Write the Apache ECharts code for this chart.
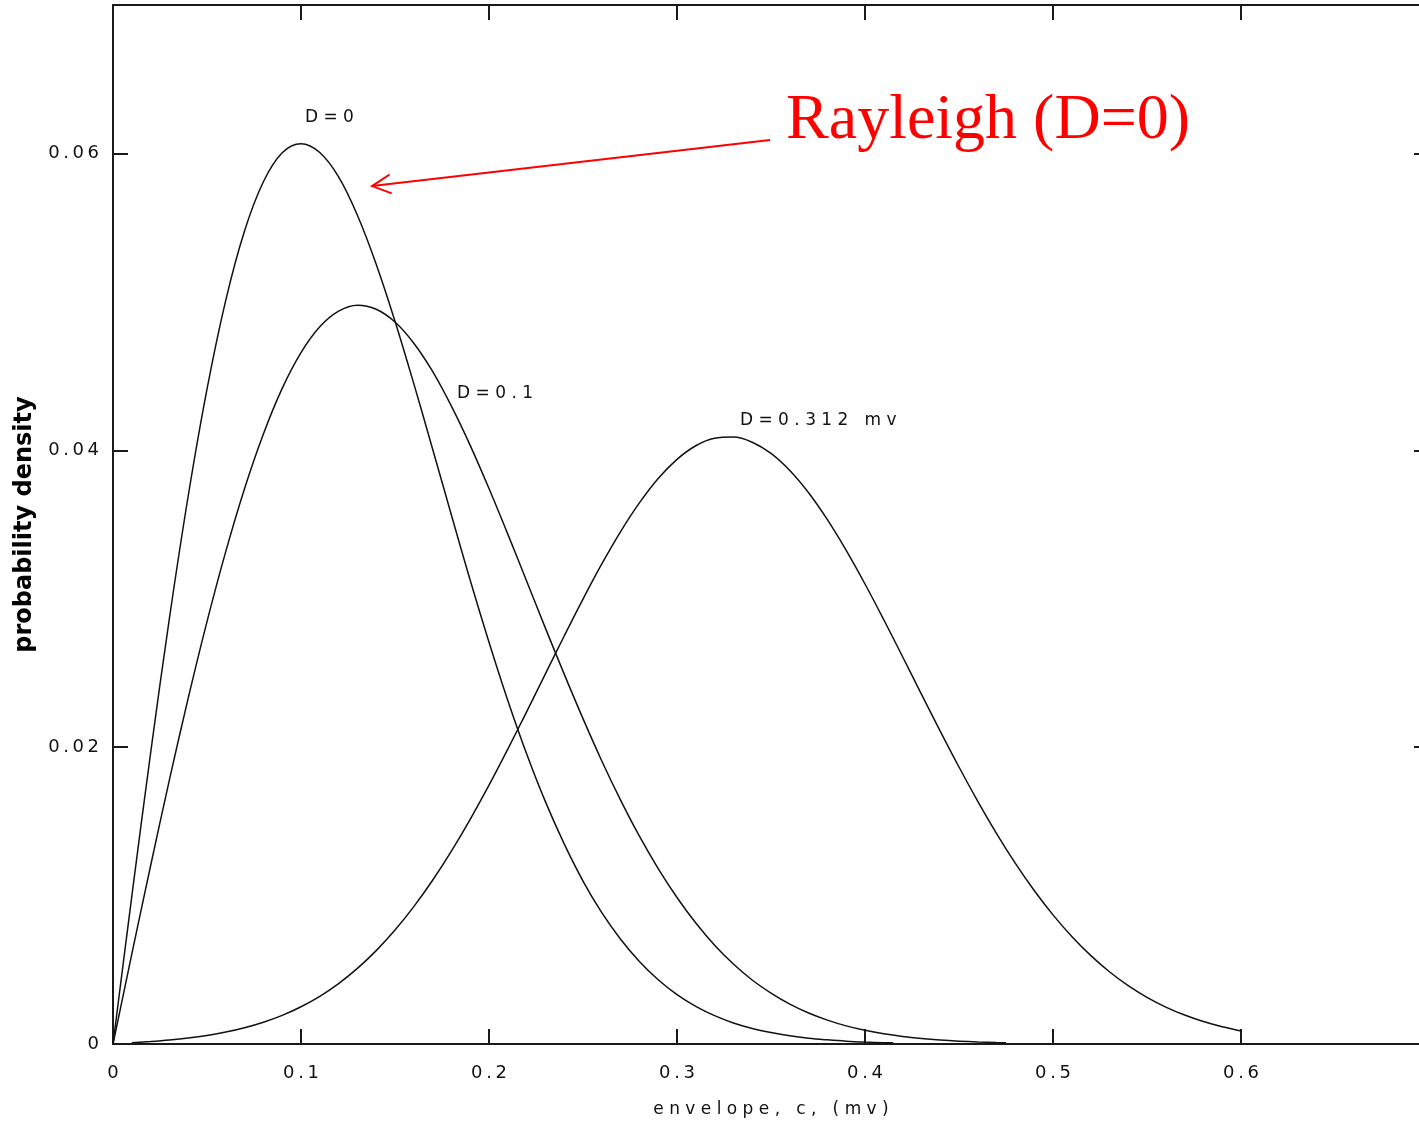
<!DOCTYPE html>
<html>
<head>
<meta charset="utf-8">
<script src="https://cdn.jsdelivr.net/npm/echarts@6/dist/echarts.min.js"></script>
<style>
  html, body { margin: 0; padding: 0; background: #ffffff; }
  #chart { width: 1419px; height: 1124px; }
</style>
</head>
<body>
<div id="chart"></div>
<script>
// Envelope values c (mV) and probability density for each direct-path amplitude D.
const envD0 = [0, 0.01, 0.02, 0.03, 0.04, 0.05, 0.06, 0.07, 0.08, 0.09, 0.10, 0.11, 0.12, 0.13, 0.14,
  0.15, 0.16, 0.17, 0.18, 0.19, 0.20, 0.21, 0.22, 0.23, 0.24, 0.25, 0.26, 0.27, 0.28, 0.29, 0.30,
  0.31, 0.32, 0.33, 0.34, 0.35, 0.36, 0.37, 0.38, 0.39, 0.40, 0.41, 0.415];
const pdfD0 = [0, 0.00995, 0.0196, 0.02868, 0.03692, 0.04412, 0.05012, 0.05479, 0.05809, 0.06004,
  0.06065, 0.06006, 0.05842, 0.05584, 0.05254, 0.0487, 0.04449, 0.04009, 0.03564, 0.03124, 0.02707,
  0.02315, 0.01956, 0.01633, 0.01348, 0.01098, 0.00885, 0.00706, 0.00556, 0.00433, 0.00333,
  0.00254, 0.00191, 0.00142, 0.00105, 0.00077, 0.00055, 0.00039, 0.00028, 0.00019, 0.00013,
  0.00009, 0.00008];

const envD01 = [0, 0.01, 0.02, 0.03, 0.04, 0.05, 0.06, 0.07, 0.08, 0.09, 0.10, 0.11, 0.12, 0.13, 0.14,
  0.15, 0.16, 0.17, 0.18, 0.19, 0.20, 0.21, 0.22, 0.23, 0.24, 0.25, 0.26, 0.27, 0.28, 0.29, 0.30,
  0.31, 0.32, 0.33, 0.34, 0.35, 0.36, 0.37, 0.38, 0.39, 0.40, 0.41, 0.42, 0.43, 0.44, 0.45, 0.46,
  0.47, 0.475];
const pdfD01 = [0, 0.00605, 0.01201, 0.01779, 0.0233, 0.02846, 0.03319, 0.03743, 0.0411, 0.04417,
  0.04658, 0.04832, 0.04937, 0.04977, 0.0495, 0.04864, 0.04721, 0.04531, 0.04297, 0.04033, 0.03742,
  0.03435, 0.03119, 0.02802, 0.02492, 0.02192, 0.01907, 0.01643, 0.014, 0.01182, 0.00987,
  0.00815, 0.00666, 0.00539, 0.00431, 0.00343, 0.00269, 0.00209, 0.00161, 0.00122, 0.00092,
  0.000686, 0.000506, 0.00037, 0.000267, 0.000191, 0.000135, 0.000095, 0.00008];

const envD0312 = [0.01, 0.02, 0.03, 0.04, 0.05, 0.06, 0.07, 0.08, 0.09, 0.10, 0.11, 0.12, 0.13, 0.14,
  0.15, 0.16, 0.17, 0.18, 0.19, 0.20, 0.21, 0.22, 0.23, 0.24, 0.25, 0.26, 0.27, 0.28, 0.29, 0.30,
  0.31, 0.32, 0.33, 0.34, 0.35, 0.36, 0.37, 0.38, 0.39, 0.40, 0.41, 0.42, 0.43, 0.44, 0.45, 0.46,
  0.47, 0.48, 0.49, 0.50, 0.51, 0.52, 0.53, 0.54, 0.55, 0.56, 0.57, 0.58, 0.59, 0.60];
const pdfD0312 = [0.000078, 0.000166, 0.000272, 0.000406, 0.00058, 0.000805, 0.001096, 0.001466,
  0.001931, 0.002512, 0.003216, 0.004073, 0.005093, 0.006291, 0.007675, 0.009255, 0.011031,
  0.012995, 0.015137, 0.017437, 0.019864, 0.022378, 0.024937, 0.027488, 0.029976, 0.032341,
  0.034523, 0.036456, 0.038098, 0.03939, 0.040306, 0.040809, 0.04089, 0.040545, 0.039787,
  0.038636, 0.037137, 0.035326, 0.033259, 0.030992, 0.028581, 0.026091, 0.023573, 0.021082,
  0.018661, 0.01635, 0.014179, 0.01217, 0.010342, 0.008699, 0.007242, 0.005969, 0.004868,
  0.003931, 0.003143, 0.002487, 0.001949, 0.001511, 0.001159, 0.000881];

const curveNames = ['D=0', 'D=0.1', 'D=0.312 mv'];
const annotationText = 'Rayleigh (D=0)';
const xAxisTitle = 'envelope, c, (mv)';
const yAxisTitle = 'probability density';

const chart = echarts.init(document.getElementById('chart'), null, { renderer: 'canvas' });

const zip = (xs, ys) => xs.map((x, i) => [x, ys[i]]);
const spread = (s, sep) => s.split('').join(sep);
const tickFmt = v => spread(String(+v.toFixed(2)), '\u2009');

const frameLine = { show: true, onZero: false, lineStyle: { color: '#1a1a1a', width: 2 } };
const innerTick = { show: true, inside: true, length: 15, lineStyle: { color: '#1a1a1a', width: 2 } };
const tickText = { fontFamily: 'DejaVu Sans', fontSize: 18, color: '#111111' };

const curveStyle = { color: '#111111', width: 1.5 };
const makeCurve = (name, data) => ({
  name, type: 'line', data, showSymbol: false, symbol: 'none', smooth: 0.35,
  lineStyle: curveStyle, itemStyle: { color: '#111111' }, z: 3
});

chart.setOption({
  animation: false,
  backgroundColor: '#ffffff',
  grid: { left: 113, top: 5, right: -10, bottom: 80, containLabel: false, outerBoundsMode: 'none' },
  xAxis: [
    {
      type: 'value', position: 'bottom', min: 0, max: 0.7, interval: 0.1,
      axisLine: frameLine, axisTick: innerTick, splitLine: { show: false },
      axisLabel: { ...tickText, margin: 20, formatter: tickFmt, showMaxLabel: false },
      name: spread(xAxisTitle, ' '), nameLocation: 'middle', nameGap: 57,
      nameTextStyle: { fontFamily: 'DejaVu Sans', fontSize: 17, color: '#111111' }
    },
    {
      type: 'value', position: 'top', min: 0, max: 0.7, interval: 0.1,
      axisLine: frameLine, axisTick: innerTick, splitLine: { show: false },
      axisLabel: { show: false }
    }
  ],
  yAxis: [
    {
      type: 'value', position: 'left', min: 0, max: 0.07, interval: 0.02,
      axisLine: frameLine, axisTick: innerTick, splitLine: { show: false },
      axisLabel: { ...tickText, margin: 14, formatter: tickFmt, showMaxLabel: false },
      name: yAxisTitle, nameLocation: 'middle', nameGap: 71,
      nameTextStyle: { fontFamily: 'DejaVu Sans', fontWeight: 'bold', fontSize: 24, color: '#000000' }
    },
    {
      type: 'value', position: 'right', min: 0, max: 0.07, interval: 0.02,
      axisLine: frameLine, axisTick: innerTick, splitLine: { show: false },
      axisLabel: { show: false }
    }
  ],
  series: [
    makeCurve(curveNames[0], zip(envD0, pdfD0)),
    makeCurve(curveNames[1], zip(envD01, pdfD01)),
    makeCurve(curveNames[2], zip(envD0312, pdfD0312))
  ]
});

// Curve captions, the red annotation and its arrow, placed in data space.
const toPx = p => chart.convertToPixel({ gridIndex: 0 }, p);
const captionAnchors = [[0.1021, 0.0624], [0.183, 0.0438], [0.3335, 0.0420]];
const graphics = curveNames.map((name, i) => {
  const [x, y] = toPx(captionAnchors[i]);
  return {
    type: 'text', x, y, z: 10,
    style: {
      text: spread(name, ' '), fill: '#111111',
      font: '17px "DejaVu Sans"', textAlign: 'left', textVerticalAlign: 'middle'
    }
  };
});

const [tx, ty] = toPx([0.358, 0.0622]);
graphics.push({
  type: 'text', x: tx, y: ty, z: 10,
  style: {
    text: annotationText, fill: '#ff0000',
    font: '64px "Liberation Serif"', textAlign: 'left', textVerticalAlign: 'middle'
  }
});

const tail = toPx([0.3495, 0.0609]);
const tip = toPx([0.1378, 0.0578]);
const dx = tail[0] - tip[0], dy = tail[1] - tip[1];
const len = Math.hypot(dx, dy);
const ux = dx / len, uy = dy / len;
const armLen = 21, armAng = 27 * Math.PI / 180;
const arm = s => {
  const c = Math.cos(s * armAng), sn = Math.sin(s * armAng);
  return [tip[0] + armLen * (ux * c - uy * sn), tip[1] + armLen * (ux * sn + uy * c)];
};
graphics.push({
  type: 'line', z: 10,
  shape: { x1: tail[0], y1: tail[1], x2: tip[0], y2: tip[1] },
  style: { stroke: '#ff0000', lineWidth: 2 }
});
graphics.push({
  type: 'polyline', z: 10,
  shape: { points: [arm(1), tip, arm(-1)] },
  style: { stroke: '#ff0000', lineWidth: 2, fill: null }
});

chart.setOption({ graphic: graphics });
</script>
</body>
</html>
